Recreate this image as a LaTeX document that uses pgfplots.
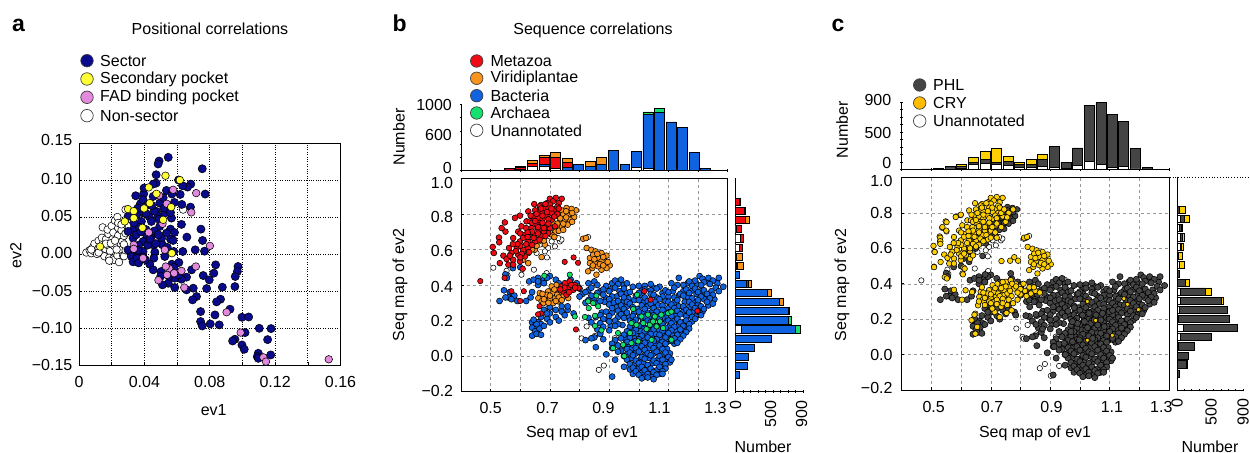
\documentclass[border=0pt]{standalone}
\usepackage{pgfplots}
\usepackage{pgfplotstable}
\usepackage{fontspec}
\setmainfont{Liberation Sans}
\pgfplotsset{compat=1.18}
\definecolor{navyA}{HTML}{0A0A8C}
\definecolor{yelA}{HTML}{FFFF33}
\definecolor{pinkA}{HTML}{E38ADF}
\definecolor{redB}{HTML}{F00A14}
\definecolor{oraB}{HTML}{F7941D}
\definecolor{bluB}{HTML}{0F62E0}
\definecolor{greB}{HTML}{14E070}
\definecolor{darkC}{HTML}{444444}
\definecolor{yelC}{HTML}{FFD000}
\newcommand\fs{\fontsize{16bp}{18bp}\selectfont}
\newcommand\rb[2]{\raisebox{#1bp}[11bp][0bp]{#2}}
\newcommand\xs[2]{\makebox[0pt]{\kern#1bp #2}}
\pgfplotsset{dots/.style 2 args={only marks,mark=*,mark size=#2bp,mark options={solid,draw=black,fill=#1,line width=.55bp}},
 bars/.style={fill=#1,draw=black,line width=.75bp},
 base/.style={scale only axis,tick align=inside,major tick length=2.5bp,tick style={black,line width=.6bp},
   axis line style={black,line width=.9bp},tick label style={inner sep=0pt},
   xlabel style={inner sep=0pt},ylabel style={inner sep=0pt},
   xtick pos=bottom,ytick pos=left},
 scat/.style={base,xmin=.4,xmax=1.3,ymin=-.2,ymax=1,grid=major,grid style={gray!80,dashed,line width=.45bp},
   xtick={.4,.5,.6,.7,.8,.9,1,1.1,1.2,1.3},ytick={-.2,0,.2,.4,.6,.8,1},
   xlabel={Seq map of ev1},ylabel={Seq map of ev2}},
 toph/.style={base,xmin=.4,xmax=1.3,ymin=0,ybar stacked,bar width=.0337,
   axis x line=bottom,axis y line=left,axis line style={-},
   xtick={.4,.5,.6,.7,.8,.9,1,1.1,1.2,1.3},xticklabels={},ylabel={Number}},
 righth/.style={base,ymin=-.2,ymax=1,xmin=0,xmax=900,xbar stacked,bar width=.041,
   axis x line=bottom,axis y line=left,axis line style={-},ytick=\empty,
   xtick={0,100,200,300,400,500,600,700,800,900},
   xticklabel style={rotate=90,anchor=east},tick label style={inner sep=0pt},xlabel={Number}}}
% --- panel a
\pgfplotstableread{
x y
.0045 .002
.0065 .005
.0075 .001
.0085 .009
.009 .004
.0095 .014
.011 0
.012 .008
.012 .018
.0135 .003
.0145 .014
.014 .022
.0155 -.003
.016 .007
.0165 .02
.0175 .012
.018 .027
.0145 .036
.0175 .033
.019 .004
.0185 -.005
.02 .038
.0205 .02
.021 .029
.022 .045
.0235 .05
.0215 .011
.021 -.006
.0215 -.008
.0235 -.002
.024 .035
.024 .025
.024 .042
.0255 .014
.0255 .005
.026 .032
.0265 .017
.027 -.002
.0275 -.003
.0285 .005
.0275 .013
.0275 .0245
.0285 .06
.0637 .06
.0305 .038
.026 .04
.012 .002
.0075 .006
.0185 -.009
.0245 -.011
.0165 .014
.0195 .0145
.022 .018
.023 .006
.0285 .028
}\tabWhite
\pgfplotstableread{
x y
.0546 .1306
.049 .1256
.0484 .1216
.0754 .1152
.0472 .1071
.0609 .1
.0684 .0945
.0664 .0904
.0634 .0922
.0472 .0958
.0454 .0945
.0535 .0859
.0347 .0787
.0396 .0814
.0398 .0891
.0619 .0805
.0772 .081
.0568 .081
.0584 .0697
.0629 .067
.0682 .0634
.0376 .0679
.0392 .0733
.0454 .0778
.0494 .0688
.0421 .0665
.0474 .0575
.0525 .0553
.0566 .0485
.0392 .0553
.0429 .0507
.0351 .053
.03 .0507
.0382 .044
.0443 .044
.0484 .0507
.0627 .04
.0494 .0372
.056 .0336
.0746 .0336
.0331 .0327
.03 .0304
.0535 .0282
.0584 .0291
.066 .0228
.0505 .021
.0756 .0183
.056 .02
.0576 .0183
.0331 .0214
.0413 .026
.0443 .0237
.0392 .0169
.0454 .0124
.0511 .0124
.0635 .0034
.0711 .0056
.0768 .0038
.0464 .0025
.0392 .0034
.03 .0056
.0347 .0034
.0321 -.0034
.058 .0034
.0525 -.0034
.0458 -.0056
.0331 -.0106
.0392 -.004
.0433 -.0138
.0454 -.0214
.0611 -.0115
.0568 -.0138
.0836 -.0147
.0689 -.0214
.0973 -.0169
.0969 -.0237
.0956 -.0304
.076 -.0291
.0825 -.0259
.0797 -.035
.0503 -.0237
.0658 -.0313
.0627 -.034
.0586 -.0327
.0546 -.0395
.0511 -.0417
.0586 -.0453
.0699 -.0462
.0658 -.0485
.0781 -.0467
.0877 -.0449
.0954 -.044
.0719 -.0575
.0695 -.062
.0866 -.0611
.0842 -.0647
.0924 -.0746
.0832 -.0823
.0744 -.0778
.0997 -.0855
.1038 -.0851
.0744 -.0913
.0754 -.0972
.0803 -.0945
.0858 -.0958
.1103 -.1004
.1175 -.1008
.1016 -.1062
.1154 -.1157
.0954 -.1152
.094 -.1175
.0997 -.1229
.1011 -.1288
.1097 -.1342
.1173 -.1364
.1091 -.1387
.1097 -.141
.0365 .012
.035 .026
.037 .036
.041 .033
.046 .031
.036 .062
.041 .055
.046 .058
.049 .047
.036 .005
.042 .012
.0355 -.006
.054 .009
.058 -.018
.061 -.028
.055 -.03
.05 -.03
.0335 .042
.038 .03
.0435 .02
.0485 .026
.047 .014
.0405 -.0075
.0365 -.012
.052 .062
.056 .056
.0445 .0655
.0515 .076
}\tabNavy
\pgfplotstableread{
x y
.0529 .1058
.0617 .0999
.0427 .09
.0474 .0814
.0433 .0688
.0564 .0634
.0398 .0616
.03 .0607
.0335 .058
.0335 .0485
.028 .044
.0515 .0462
.0388 .0354
.0568 .0011
.0129 .0101
}\tabYel
\pgfplotstableread{
x y
.049 .0792
.0576 .0868
.0717 .0823
.0537 .0679
.0687 .0562
.0511 .0408
.0427 .0291
.0801 .011
.0335 .0124
.0335 .007
.0525 .0056
.0392 -.0056
.0715 -.0169
.0552 -.0196
.0531 -.0169
.0627 -.0228
.0582 -.0259
.0539 -.0282
.0486 -.0354
.0644 -.0453
.0903 -.0787
.0989 -.1062
.1128 -.1396
.1144 -.1454
.1528 -.1423
}\tabPink
% --- panels b, c : shared clusters
\pgfplotstableread{
x y
1.135 .44
1.205 .45
1.215 .435
1.235 .44
1.27 .44
.92 .425
.94 .43
1.17 .42
1.19 .425
1.22 .415
1.25 .425
.83 .41
.86 .40
.93 .405
.96 .41
1 .395
1.04 .405
1.07 .39
1.11 .41
1.15 .40
1.18 .395
1.21 .40
1.24 .405
1.285 .39
.80 .38
.84 .385
.88 .375
.92 .385
.95 .38
.98 .39
1.02 .375
1.06 .38
1.09 .37
1.12 .385
1.16 .375
1.19 .38
1.22 .37
1.26 .385
1.27 .365
.82 .36
.86 .355
.90 .365
.94 .35
.97 .36
1 .355
1.04 .35
1.1 .36
1.14 .35
1.17 .355
1.2 .36
1.23 .35
1.25 .345
.80 .335
.84 .34
.88 .345
.91 .335
.95 .33
.99 .34
1.02 .33
1.05 .345
1.08 .335
1.12 .33
1.15 .34
1.18 .325
1.21 .335
1.24 .325
.83 .315
.87 .31
.90 .32
.93 .31
.96 .305
1 .315
1.03 .31
1.07 .32
1.10 .305
1.13 .315
1.17 .305
1.2 .315
1.23 .305
.82 .30
.90 .29
.94 .285
.97 .295
1.01 .285
1.04 .295
1.08 .285
1.11 .29
1.15 .28
1.18 .29
1.21 .28
1.25 .295
.91 .27
.95 .265
.98 .275
1.02 .265
1.05 .27
1.08 .26
1.12 .27
1.16 .26
1.19 .27
1.22 .265
.89 .25
.93 .255
.96 .245
1 .25
1.03 .24
1.06 .25
1.1 .245
1.13 .255
1.17 .245
1.2 .25
.87 .23
.90 .225
.94 .235
.98 .225
1.02 .22
1.05 .23
1.08 .215
1.11 .225
1.14 .235
1.18 .22
1.21 .23
.83 .215
.88 .21
.92 .20
.95 .215
.99 .205
1.03 .20
1.07 .21
1.1 .20
1.13 .21
1.16 .20
1.19 .21
.84 .19
.87 .185
.90 .195
.93 .18
.98 .19
1.01 .18
1.04 .19
1.08 .18
1.11 .185
1.14 .19
1.17 .18
.88 .165
.92 .17
.97 .165
1 .17
1.03 .16
1.06 .17
1.09 .16
1.12 .165
1.15 .17
1.17 .155
.86 .15
.90 .145
.96 .14
.99 .15
1.02 .14
1.05 .15
1.08 .14
1.11 .145
1.14 .15
1.16 .135
.87 .125
.95 .12
.98 .13
1.01 .115
1.04 .125
1.07 .12
1.1 .13
1.13 .12
1.15 .115
.85 .105
.94 .10
.97 .105
1 .095
1.03 .105
1.06 .095
1.09 .105
1.12 .10
1.14 .095
.82 .09
.84 .10
.88 .095
.92 .09
.96 .08
.99 .085
1.02 .075
1.05 .085
1.08 .08
1.11 .085
1.13 .075
.91 .07
.95 .06
.98 .065
1.01 .055
1.04 .065
1.07 .06
1.09 .07
.855 .05
.91 .045
.96 .04
.99 .045
1.02 .035
1.05 .045
1.08 .04
.93 .025
.97 .02
1 .025
1.03 .015
1.06 .025
1.09 .02
.89 .01
.95 0
.98 .005
1.01 -.005
1.04 .005
1.07 0
1.1 -.005
.92 -.02
.96 -.02
.99 -.025
1.02 -.015
1.05 -.025
1.08 -.02
1.11 -.02
.97 -.045
1 -.04
1.03 -.05
1.06 -.04
1.09 -.045
.95 -.06
.98 -.065
1.01 -.06
1.04 -.07
1.07 -.06
1.09 -.07
.99 -.085
1.02 -.08
1.05 -.09
1.08 -.085
1 -.105
1.03 -.10
1.06 -.105
1.08 -.10
.91 -.115
1.01 -.125
1.05 -.13
1.03 -.12
}\bulk
\pgfplotstableread{
x y
.85 .42
.89 .395
.91 .41
.95 .40
1.02 .395
1.05 .385
1.13 .40
1.165 .41
1.195 .405
1.235 .42
1.265 .41
.83 .37
.87 .365
.905 .375
.935 .365
.96 .355
1.01 .37
1.04 .37
1.08 .355
1.115 .365
1.15 .365
1.18 .37
1.21 .365
1.245 .365
.81 .35
.85 .325
.89 .325
.925 .335
.965 .325
1.01 .345
1.06 .33
1.1 .335
1.135 .34
1.165 .335
1.195 .35
1.225 .335
1.255 .32
.85 .30
.885 .305
.915 .30
.95 .31
.985 .315
1.015 .30
1.055 .305
1.09 .31
1.12 .30
1.155 .305
1.19 .305
1.22 .32
.925 .275
.96 .28
.995 .265
1.03 .28
1.065 .285
1.1 .27
1.135 .28
1.17 .275
1.2 .29
1.235 .285
.875 .245
.91 .245
.945 .25
.985 .245
1.015 .245
1.045 .25
1.085 .24
1.115 .255
1.15 .25
1.185 .25
1.215 .25
.855 .22
.895 .205
.93 .22
.965 .225
1.005 .225
1.035 .22
1.065 .23
1.095 .22
1.125 .225
1.16 .225
1.195 .23
.97 .20
1.015 .20
1.05 .205
1.085 .195
1.12 .20
1.15 .19
1.18 .195
.905 .17
.945 .175
.985 .17
1.015 .165
1.045 .17
1.075 .165
1.105 .17
1.135 .175
1.16 .16
.975 .15
1.005 .14
1.035 .145
1.065 .15
1.095 .145
1.125 .145
1.15 .14
.96 .115
.99 .115
1.02 .12
1.055 .125
1.085 .12
1.115 .115
1.14 .125
.955 .095
.985 .10
1.015 .095
1.045 .10
1.075 .095
1.105 .095
1.13 .10
.975 .08
1.005 .075
1.035 .08
1.065 .075
1.095 .08
1.12 .07
.93 .06
.965 .06
.995 .065
1.025 .055
1.055 .06
1.085 .055
.94 .03
.975 .04
1.005 .035
1.035 .045
1.065 .045
1.095 .04
.96 .01
.99 .015
1.02 .005
1.05 .015
1.08 .01
1.105 .015
.975 -.01
1.005 -.02
1.035 -.01
1.065 -.02
1.095 -.015
.985 -.045
1.015 -.04
1.045 -.04
1.075 -.045
1.105 -.035
.97 -.075
1.0 -.07
1.03 -.075
1.06 -.08
1.085 -.06
.98 -.10
1.01 -.095
1.04 -.105
1.07 -.10
1.02 -.115
1.045 -.115
}\bulkTwo
\pgfplotstableread{
x y
.53 .31
.545 .37
.565 .36
.56 .33
.58 .34
.57 .32
.55 .33
.59 .31
.62 .31
.635 .33
.64 .36
.63 .42
.66 .44
.68 .43
.70 .45
.72 .43
.73 .41
.66 .40
.74 .28
.72 .26
.70 .24
.68 .26
.67 .22
.69 .21
.72 .22
.74 .25
.76 .26
.78 .24
.75 .23
.66 .19
.64 .19
.65 .17
.67 .18
.64 .16
.65 .14
.665 .155
.68 .17
.64 .115
.655 .125
.67 .12
.73 .2
.70 .19
.55 .46
.555 .44
.60 .50
.575 .495
.69 .44
.645 .43
.66 .42
.68 .41
.77 .43
.79 .41
.70 .275
.76 .28
.69 .24
.655 .18
.645 .205
}\left
\pgfplotstableread{
x y
.681 .452
.767 .458
.795 .392
.857 .34
.829 .308
.846 .298
.863 .28
.831 .27
.852 .227
.818 .22
.784 .223
.852 .17
.874 .145
.93 .13
.913 .045
.947 .064
.951 0
.975 .073
.998 .083
.981 .265
.994 .345
1.009 .223
1.031 .233
1.054 .223
1.076 .233
1.099 .242
1.11 .25
.992 .176
1.015 .186
1.037 .176
1.06 .167
1.082 .158
.975 .186
.97 .13
1.026 .152
1.048 .195
1.071 .195
1.043 .092
1.11 .092
}\green
\pgfplotstableread{
x y
.70 .885
.72 .89
.74 .885
.71 .87
.73 .86
.69 .86
.67 .85
.647 .855
.666 .842
.627 .814
.599 .79
.582 .777
.548 .752
.55 .70
.537 .72
.528 .667
.529 .64
.507 .614
.511 .58
.531 .523
.543 .565
.554 .546
.562 .608
.576 .664
.593 .70
.604 .73
.621 .758
.644 .786
.661 .814
.683 .827
.70 .852
.717 .824
.689 .786
.666 .749
.638 .72
.616 .683
.599 .645
.588 .608
.593 .57
.576 .542
.56 .514
.576 .514
.608 .491
.599 .533
.61 .598
.627 .645
.644 .683
.661 .711
.683 .739
.706 .767
.717 .73
.694 .692
.672 .674
.65 .645
.627 .608
.616 .561
.633 .758
.706 .805
.675 .805
.66 .78
.64 .75
.62 .72
.60 .69
.655 .74
.675 .77
.695 .83
.685 .855
.725 .84
.70 .72
.68 .70
.66 .69
.65 .82
.635 .79
.67 .83
.655 .80
.69 .81
.705 .83
.675 .79
.695 .77
.65 .76
.675 .75
.695 .745
.66 .725
.64 .70
.625 .695
.68 .72
.61 .665
.625 .67
.645 .665
.665 .655
.685 .675
.60 .62
.62 .63
.64 .625
.59 .63
.575 .63
.605 .575
.585 .59
.63 .585
.60 .555
.57 .58
.565 .565
.725 .80
.715 .785
.73 .83
}\upRed
\pgfplotstableread{
x y
.788 .82
.773 .828
.756 .833
.739 .82
.728 .796
.745 .796
.762 .796
.782 .782
.767 .767
.75 .767
.734 .758
.76 .739
.74 .727
.722 .73
.719 .70
.706 .683
.689 .692
.661 .683
.638 .645
.663 .645
.683 .627
.649 .598
.627 .58
.672 .557
.627 .523
.61 .542
.694 .72
.711 .749
.775 .805
.755 .815
.735 .775
.755 .78
.775 .755
.745 .745
.73 .705
.725 .745
.745 .71
.70 .70
.715 .67
.68 .65
.655 .62
.64 .60
}\upOra
\pgfplotstableread{
x y
.812 .66
.822 .664
.824 .608
.84 .598
.854 .589
.874 .58
.891 .565
.885 .533
.902 .51
.891 .495
.874 .486
.857 .458
.843 .495
.829 .477
.852 .523
.835 .552
.863 .552
.874 .533
.846 .57
.863 .505
.88 .557
.835 .523
.869 .518
.85 .545
.86 .575
.845 .51
.88 .51
.895 .53
}\smOra
\pgfplotstableread{
x y
.661 .326
.672 .308
.683 .336
.70 .317
.717 .326
.728 .308
.711 .355
.694 .364
.722 .40
.734 .364
.745 .336
.706 .392
.678 .298
.711 .298
.666 .355
.762 .326
.69 .345
.725 .345
.68 .32
.695 .30
.73 .33
.715 .375
.70 .34
.675 .35
.74 .315
.72 .31
}\midOra
\pgfplotstableread{
x y
.739 .392
.751 .411
.767 .42
.784 .40
.762 .383
.745 .364
.779 .373
.756 .345
.796 .383
.772 .40
.75 .385
.765 .36
.785 .385
.735 .375
}\midRed
\pgfplotstableread{
x y
.465 .422
.547 .44
.57 .365
.612 .365
.60 .31
.67 .24
.665 .28
.75 .53
.78 .555
.795 .525
.788 .15
1.019 .365
1.04 .317
1.198 .255
.66 .235
}\isoRed
\pgfplotstableread{
x y
.509 .497
.646 .486
.604 .458
.554 .48
.557 .455
.829 .67
.824 .167
.807 .10
.852 .114
.919 .101
.865 -.077
.882 -.053
.69 .555
.655 .58
.694 .608
.717 .617
.734 .645
.739 .655
.728 .664
.706 .645
.683 .589
.666 .627
.70 .673
.689 .467
.694 .27
.70 .26
}\whiteB
\pgfplotstableread{
x y
.466 .419
.536 .716
.551 .695
.582 .78
.598 .787
.811 .654
.82 .66
.786 .147
.811 .09
.902 -.12
.93 -.064
.952 .024
.966 .39
.949 .423
.691 .472
}\whiteC
\pgfplotstableread{
x y
.551 .748
.53 .66
.53 .64
.53 .625
.511 .579
.509 .494
.545 .438
.552 .43
.576 .366
.603 .31
.606 .453
.612 .485
.63 .541
.615 .363
.637 .353
.657 .278
.648 .231
.635 .194
.654 .156
.648 .118
.645 .225
.67 .38
.66 .30
.736 .528
.779 .55
.765 .53
.792 .53
.713 .24
.73 .212
.753 .235
.77 .25
.80 .34
.815 .36
.83 .38
.81 .40
.835 .345
.85 .36
.865 .35
.79 .31
.775 .29
.755 .28
.735 .27
.70 .29
.72 .285
.74 .41
.77 .33
.80 .37
.74 .78
.76 .80
.775 .82
.75 .75
.72 .77
.735 .72
.70 .70
.72 .66
.69 .65
.66 .62
.64 .56
.61 .57
.735 .80
.745 .82
.755 .775
.72 .74
.705 .72
.715 .69
.70 .66
.675 .64
.65 .61
.63 .60
.79 .35
.82 .33
.845 .38
.76 .31
.74 .29
.705 .26
.68 .28
}\extraY
\pgfplotstableread{
x y
1.025 .30
1.053 .193
1.109 .109
1.025 .081
1.148 .316
1.16 .284
1.197 .254
}\isoY
\pgfplotstableread{
x w bl r o g
.484 0 0 8 2 0
.524 2 4 2 2 0
.563 0 5 25 10 0
.602 0 15 40 15 0
.642 60 0 50 45 0
.681 65 25 115 30 0
.719 35 5 160 75 0
.758 0 55 65 60 0
.796 0 90 0 10 0
.836 0 65 5 65 0
.875 0 100 0 100 0
.913 0 300 0 5 0
.953 0 100 0 0 0
.992 50 235 0 5 0
1.031 30 820 0 5 30
1.071 0 880 0 0 60
1.109 0 735 0 0 0
1.147 0 645 0 0 0
1.187 0 275 0 0 0
1.226 0 35 0 0 0
}\hTopB
\pgfplotstableread{
y w bl r o g
.867 0 0 50 8 0
.818 0 0 115 18 0
.765 0 0 135 50 0
.715 15 0 55 10 0
.662 60 0 40 6 0
.610 45 0 40 8 0
.559 0 10 5 78 0
.507 0 15 5 86 0
.456 0 45 5 3 0
.405 0 145 30 29 0
.356 0 420 8 50 0
.304 0 580 5 55 0
.253 0 700 0 3 15
.201 0 700 2 3 40
.150 70 730 0 0 65
.098 0 475 0 3 0
.047 0 245 0 3 0
-.006 0 168 0 0 0
-.056 0 150 0 0 0
-.107 0 53 0 0 0
}\hRightB
\pgfplotstableread{
x w d yl
.484 0 5 0
.524 0 10 0
.563 5 28 3
.602 18 25 24
.642 60 35 62
.681 75 55 112
.719 65 30 183
.758 50 55 70
.796 30 30 34
.836 20 45 65
.875 40 95 62
.913 20 285 0
.953 15 79 0
.992 50 237 0
1.031 105 755 0
1.071 65 831 0
1.109 25 715 0
1.147 40 600 0
1.187 5 277 0
1.226 0 27 0
}\hTopC
\pgfplotstableread{
y w d yl
.867 0 2 0
.818 5 30 83
.765 45 55 73
.715 35 18 20
.662 45 25 25
.610 40 22 20
.559 20 5 52
.507 30 5 60
.456 0 27 0
.405 5 115 53
.356 45 345 74
.304 45 555 36
.253 35 655 0
.201 25 684 0
.150 85 742 0
.098 40 433 0
.047 15 225 0
-.006 10 145 0
-.056 5 125 6
-.107 0 36 0
}\hRightC
\begin{document}
\fs
\begin{tikzpicture}
\useasboundingbox (0,0) rectangle (1250bp,453bp);
% ---------- panel a
\begin{axis}[base,at={(79bp,88bp)},anchor=south west,width=261.5bp,height=222bp,
  xmin=0,xmax=.16,ymin=-.15,ymax=.15,
  xtick={0,.02,.04,.06,.08,.1,.12,.14,.16},xticklabels={0,,0.04,,0.08,,0.12,,0.16},
  ytick={-.15,-.1,-.05,0,.05,.1,.15},
  yticklabels={−0.15,−0.10,−0.05,\rb{.7}{0.00},\rb{1.3}{0.05},\rb{1.3}{0.10},\rb{2.7}{0.15}},
  xticklabel style={yshift=-11bp},yticklabel style={xshift=-6.5bp},tick label style={inner sep=0pt},
  grid=major,grid style={black,dotted,line width=.7bp},
  xlabel={ev1},ylabel={ev2},
  xlabel style={at={(axis description cs:.515,-.203)},anchor=center},
  ylabel style={at={(axis description cs:-.241,.495)},anchor=center}]
\addplot[dots={white}{3.8}] table[x index=0,y index=1]{\tabWhite};
\addplot[dots={navyA}{4.1}] table[x index=0,y index=1]{\tabNavy};
\addplot[dots={pinkA}{3.8}] table[x index=0,y index=1]{\tabPink};
\addplot[dots={yelA}{3.8}] table[x index=0,y index=1]{\tabYel};
\end{axis}
% ---------- panel b
\begin{axis}[scat,at={(461bp,61.3bp)},anchor=south west,width=266.7bp,height=213.4bp,
  xticklabels={,\xs{0}{0.5},,\xs{-4.6}{0.7},,\xs{-11.4}{0.9},,\xs{-18}{1.1},,\xs{-24.6}{1.3}},
  yticklabels={\rb{1}{−0.2},0.0,0.2,\rb{-1.7}{0.4},\rb{-2}{0.6},\rb{-2.7}{0.8},\rb{-5}{1.0}},
  xticklabel style={yshift=-10.8bp},yticklabel style={xshift=-7.7bp},
  xlabel style={at={(axis description cs:.454,-.194)},anchor=center},
  ylabel style={at={(axis description cs:-.229,.5)},anchor=center}]
\addplot[dots={white}{2.7}] table[x index=0,y index=1]{\whiteB};
\addplot[dots={bluB}{3.0}] table[x index=0,y index=1]{\left};
\addplot[dots={bluB}{3.0}] table[x index=0,y index=1]{\bulkTwo};
\addplot[dots={bluB}{3.0}] table[x index=0,y index=1]{\bulk};
\addplot[dots={greB}{2.7}] table[x index=0,y index=1]{\green};
\addplot[dots={oraB}{2.9}] table[x index=0,y index=1]{\upOra};
\addplot[dots={redB}{2.9}] table[x index=0,y index=1]{\upRed};
\addplot[dots={oraB}{2.9}] table[x index=0,y index=1]{\smOra};
\addplot[dots={oraB}{2.9}] table[x index=0,y index=1]{\midOra};
\addplot[dots={redB}{2.9}] table[x index=0,y index=1]{\midRed};
\addplot[dots={redB}{2.7}] table[x index=0,y index=1]{\isoRed};
\end{axis}
\begin{axis}[toph,at={(461bp,282.3bp)},anchor=south west,width=266.7bp,height=66.4bp,ymax=1000,
  ytick={0,200,400,600,800,1000},yticklabels={\rb{2.5}{0},,,\rb{-4.5}{600},,\rb{-.5}{1000}},
  yticklabel style={xshift=-7.7bp},
  ylabel style={at={(axis description cs:-.233,.507)},anchor=center}]
\addplot[bars=white] table[x=x,y=w]{\hTopB};
\addplot[bars=bluB] table[x=x,y=bl]{\hTopB};
\addplot[bars=redB] table[x=x,y=r]{\hTopB};
\addplot[bars=oraB] table[x=x,y=o]{\hTopB};
\addplot[bars=greB] table[x=x,y=g]{\hTopB};
\end{axis}
\begin{axis}[righth,at={(735.7bp,61.3bp)},anchor=south west,width=67.6bp,height=213.4bp,
  xticklabels={0,,,,,\rb{2.6}{500},,,,\rb{1.6}{900}},xticklabel style={xshift=-7.5bp},
  xlabel style={at={(axis description cs:.404,-.259)},anchor=center}]
\addplot[bars=white] table[y=y,x=w]{\hRightB};
\addplot[bars=bluB] table[y=y,x=bl]{\hRightB};
\addplot[bars=redB] table[y=y,x=r]{\hRightB};
\addplot[bars=oraB] table[y=y,x=o]{\hRightB};
\addplot[bars=greB] table[y=y,x=g]{\hRightB};
\end{axis}
% ---------- panel c
\begin{axis}[scat,at={(901.7bp,63bp)},anchor=south west,width=267.3bp,height=212.5bp,
  xticklabels={,\xs{4.6}{0.5},,\xs{2.6}{0.7},,\xs{2.6}{0.9},,\xs{4.6}{1.1},,\xs{-15.4}{1.3}},
  yticklabels={\rb{1.7}{−0.2},0.0,0.2,0.4,0.6,0.8,\rb{-3.7}{1.0}},
  xticklabel style={yshift=-11.5bp},yticklabel style={xshift=-9bp},
  xlabel style={at={(axis description cs:.499,-.202)},anchor=center},
  ylabel style={at={(axis description cs:-.223,.494)},anchor=center}]
\addplot[dots={white}{2.7}] table[x index=0,y index=1]{\whiteB};
\addplot[dots={white}{2.7}] table[x index=0,y index=1]{\whiteC};
\addplot[dots={darkC}{3.1}] table[x index=0,y index=1]{\left};
\addplot[dots={darkC}{3.1}] table[x index=0,y index=1]{\bulkTwo};
\addplot[dots={darkC}{3.1}] table[x index=0,y index=1]{\bulk};
\addplot[dots={darkC}{3.1}] table[x index=0,y index=1]{\green};
\addplot[dots={darkC}{2.9}] table[x index=0,y index=1]{\upOra};
\addplot[dots={yelC}{2.8}] table[x index=0,y index=1]{\upRed};
\addplot[dots={yelC}{2.8}] table[x index=0,y index=1]{\smOra};
\addplot[dots={yelC}{2.8}] table[x index=0,y index=1]{\midOra};
\addplot[dots={yelC}{2.8}] table[x index=0,y index=1]{\midRed};
\addplot[dots={yelC}{2.8}] table[x index=0,y index=1]{\extraY};
\addplot[dots={yelC}{2.0}] table[x index=0,y index=1]{\isoY};
\end{axis}
\begin{axis}[toph,at={(901.7bp,283.7bp)},anchor=south west,width=267.3bp,height=67bp,ymax=900,
  ytick={0,100,200,300,400,500,600,700,800,900},yticklabels={\rb{6}{0},,,,,\rb{-1.3}{500},,,,\rb{2.3}{900}},
  yticklabel style={xshift=-9bp},
  ylabel style={at={(axis description cs:-.223,.587)},anchor=center}]
\addplot[bars=white] table[x=x,y=w]{\hTopC};
\addplot[bars=darkC] table[x=x,y=d]{\hTopC};
\addplot[bars=yelC] table[x=x,y=yl]{\hTopC};
\end{axis}
\begin{axis}[righth,at={(1177bp,63bp)},anchor=south west,width=66bp,height=212.5bp,
  xticklabels={0,,,,,\rb{2.6}{500},,,,900},xticklabel style={xshift=-7.5bp},
  xlabel style={at={(axis description cs:.5,-.268)},anchor=center}]
\addplot[bars=white] table[y=y,x=w]{\hRightC};
\addplot[bars=darkC] table[y=y,x=d]{\hRightC};
\addplot[bars=yelC] table[y=y,x=yl]{\hRightC};
\end{axis}
\draw[black,dotted,line width=.8bp] (901.7bp,275.5bp) -- (1250bp,275.5bp);
% ---------- titles, letters, legends (x, 453-y in bp)
\tikzset{lab/.style={anchor=base west,inner sep=0pt,font=\fontsize{23bp}{23bp}\selectfont\bfseries},
  leg/.style={anchor=west,inner sep=0pt},
  lc/.style={circle,draw=#1,minimum size=12.5bp,inner sep=0pt,line width=.7bp}}
\node[lab] at (12bp,421.3bp) {a};
\node[lab] at (392.5bp,421bp) {b};
\node[lab] at (831.5bp,421bp) {c};
\node at (210bp,424bp) {Positional correlations};
\node at (593bp,423bp) {Sequence correlations};
\foreach \f/\yy/\t in {navyA/392.3/Sector,yelA/374/Secondary pocket,pinkA/355.7/FAD binding pocket,white/337.3/Non-sector}{
  \node[lc=black!75,fill=\f] at (87bp,\yy bp) {};
  \node[leg] at (100bp,\yy bp) {\t};}
\foreach \f/\yy/\t in {redB/392/Metazoa,oraB/374.7/Viridiplantae,bluB/357.3/Bacteria,greB/340/Archaea,white/322.7/Unannotated}{
  \node[lc=black!75,fill=\f] at (476.7bp,\yy bp) {};
  \node[leg] at (490.3bp,\yy bp) {\t};}
\foreach \f/\yy/\t in {darkC/368/PHL,yelC!75!orange/350/CRY,white/332/Unannotated}{
  \node[lc=black!75,fill=\f] at (919.7bp,\yy bp) {};
  \node[leg] at (933bp,\yy bp) {\t};}
\end{tikzpicture}
\end{document}
